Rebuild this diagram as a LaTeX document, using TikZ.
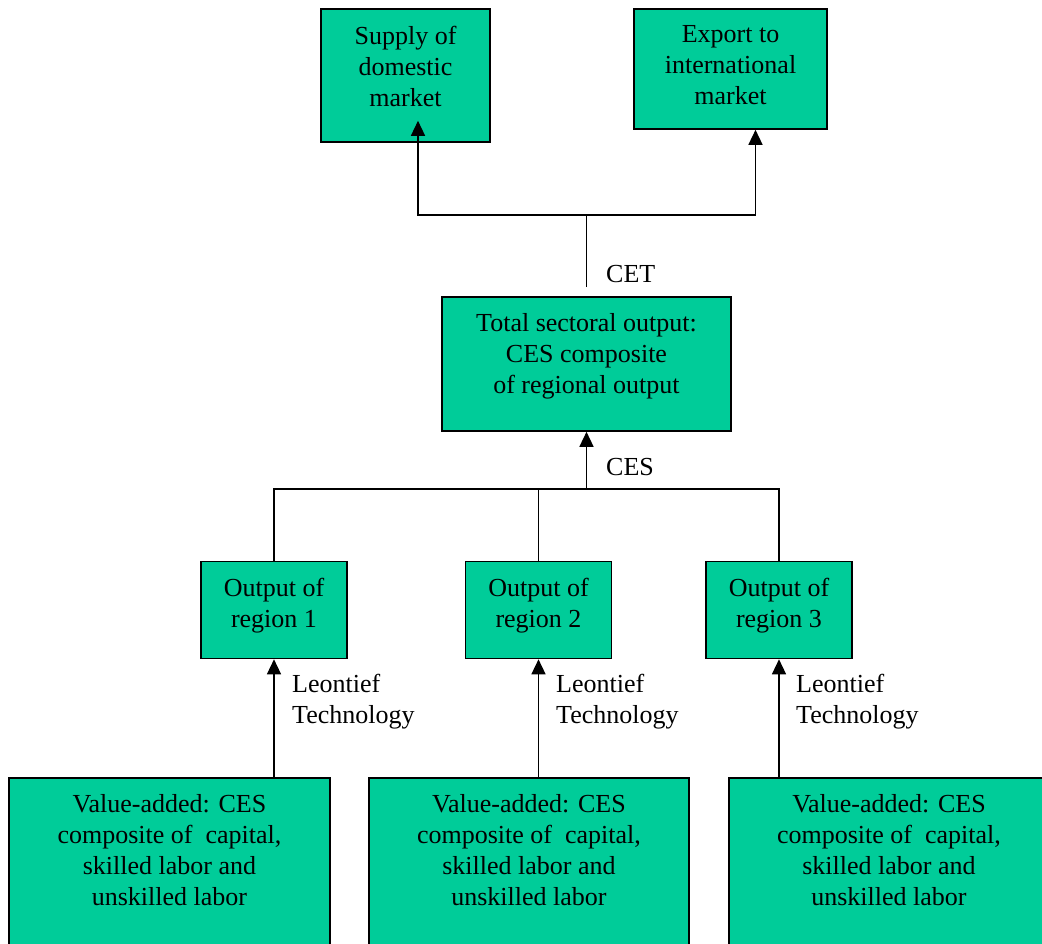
\documentclass[tikz,border=0pt]{standalone}
\usepackage{fontspec}
\setmainfont{Liberation Serif}
\usetikzlibrary{arrows.meta,positioning}

\definecolor{boxgreen}{RGB}{0,204,153}

\tikzset{
  box/.style={draw=black, line width=1.8pt, fill=boxgreen, anchor=north, inner sep=0pt},
  boxtext/.style={anchor=north, inner sep=0pt, align=center, font=\fontsize{26}{31}\selectfont},
  lbl/.style={inner sep=0pt, align=left, font=\fontsize{26}{31}\selectfont},
  conn/.style={line width=1.4pt},
  arr/.style={conn, -{Triangle[length=15pt,width=14pt]}}
}

\begin{document}
\begin{tikzpicture}[x=1pt,y=-1pt]

\useasboundingbox (0,0) rectangle (1042,943);
\clip (0,0) rectangle (1042,943);
\fill[white] (0,0) rectangle (1042,943);

\node[box, minimum width=169pt, minimum height=133pt] (sup) at (405.5,8) {};
\node[boxtext, below=17.5pt of sup.north] (supt) {Supply of\\domestic\\market};
\node[box, minimum width=193pt, minimum height=120pt] (exp) at (730.5,8) {};
\node[boxtext, below=17.5pt of exp.north] (expt) {Export to\\international\\market};

\node[box, minimum width=289pt, minimum height=134pt] (tot) at (586.5,296) {};
\node[boxtext, below=17.5pt of tot.north] (tott) {Total sectoral output:\\CES composite\\of regional output};

\node[box, minimum width=146pt, minimum height=97pt] (r1) at (274,560.5) {};
\node[boxtext, below=17.5pt of r1.north] (r1t) {Output of\\region 1};
\node[box, minimum width=146pt, minimum height=97pt] (r2) at (538.5,560.5) {};
\node[boxtext, below=17.5pt of r2.north] (r2t) {Output of\\region 2};
\node[box, minimum width=146pt, minimum height=97pt] (r3) at (779,560.5) {};
\node[boxtext, below=17.5pt of r3.north] (r3t) {Output of\\region 3};

\node[box, minimum width=321pt, minimum height=200pt] (va1) at (169.5,777) {};
\node[boxtext, below=17pt of va1.north] (va1t) {Value-added: CES\\composite of\ \ capital,\\skilled labor and\\unskilled labor};
\node[box, minimum width=320pt, minimum height=200pt] (va2) at (529,777) {};
\node[boxtext, below=17pt of va2.north] (va2t) {Value-added: CES\\composite of\ \ capital,\\skilled labor and\\unskilled labor};
\node[box, minimum width=320pt, minimum height=200pt] (va3) at (889,777) {};
\node[boxtext, below=17pt of va3.north] (va3t) {Value-added: CES\\composite of\ \ capital,\\skilled labor and\\unskilled labor};

\coordinate (cet) at ([yshift=9pt]tot.north);
\coordinate (split) at ([yshift=81pt]tot.north);
\draw[conn] (cet) -- (split);
\draw[arr] (split) -| ([xshift=12.5pt,yshift=22pt]sup.south);
\draw[arr] (split) -| ([xshift=25pt]exp.south);
\node[lbl, anchor=west] (cetl) at (606,274) {CET};

\coordinate (merge) at (586.5,489);
\draw[arr] (merge) -- (tot.south);
\draw[conn] (r1.north) |- (merge);
\draw[conn] (r3.north) |- (merge);
\draw[conn] (r2.north) -- (r2.north |- merge);
\node[lbl, anchor=west] (cesl) at (606,467) {CES};

\draw[arr] (r1.south |- va1.north) -- (r1.south);
\draw[arr] (r2.south |- va2.north) -- (r2.south);
\draw[arr] (r3.south |- va3.north) -- (r3.south);
\node[lbl, anchor=north west] (leo1) at (292,674) {Leontief\\Technology};
\node[lbl, anchor=north west] (leo2) at (556,674) {Leontief\\Technology};
\node[lbl, anchor=north west] (leo3) at (796,674) {Leontief\\Technology};

\end{tikzpicture}
\end{document}
